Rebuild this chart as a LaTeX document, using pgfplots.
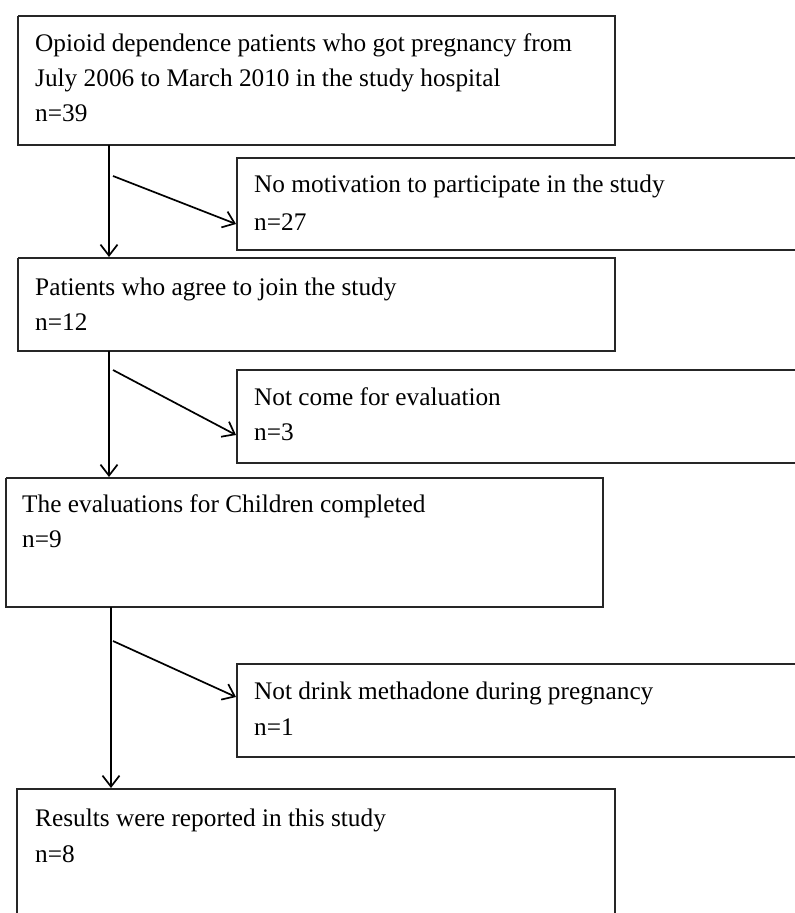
\documentclass[border=0pt]{standalone}
\usepackage{fontspec}
\setmainfont{Liberation Serif}
\usepackage{pgfplots}
\pgfplotsset{compat=1.18}
\usetikzlibrary{arrows.meta}
\begin{document}
\begin{tikzpicture}[
  ln/.style={black!85, line width=1.7bp, mark=none},
  ar/.style={black, line width=1.7bp, mark=none, -{Straight Barb[length=11bp,width=17bp,line width=1.7bp]}},
]
\begin{axis}[
  scale only axis, width=795bp, height=913bp,
  xmin=0, xmax=795, ymin=0, ymax=913, y dir=reverse,
  hide axis, clip=true,
]
% invisible corners
\addplot[draw=none, mark=none] coordinates {(0,0) (795,913)};
% main boxes
\addplot[ln] coordinates {(18,16) (615,16) (615,145) (18,145) (18,16)};
\addplot[ln] coordinates {(18,258) (615,258) (615,351) (18,351) (18,258)};
\addplot[ln] coordinates {(6,478) (603,478) (603,607) (6,607) (6,478)};
\addplot[ln] coordinates {(17,930) (17,789) (615,789) (615,930)};
% side boxes
\addplot[ln] coordinates {(800,158) (237,158) (237,250) (800,250)};
\addplot[ln] coordinates {(800,370) (237,370) (237,463) (800,463)};
\addplot[ln] coordinates {(800,664) (237,664) (237,757) (800,757)};
% vertical arrows
\addplot[ar] coordinates {(109,145) (109,257)};
\addplot[ar] coordinates {(109,351) (109,477)};
\addplot[ar] coordinates {(111,607) (111,788)};
% diagonal arrows
\addplot[ar] coordinates {(113,176) (236,224)};
\addplot[ar] coordinates {(113,370) (236,435)};
\addplot[ar] coordinates {(113,641) (236,697)};
% texts
\begin{scope}[every node/.style={anchor=base west, inner sep=0pt, font=\fontsize{25.4}{35}\selectfont}]
\node at (axis cs:35,52) {Opioid dependence patients who got pregnancy from};
\node at (axis cs:35,87) {July 2006 to March 2010 in the study hospital};
\node at (axis cs:35,122) {n=39};
\node at (axis cs:254,193) {No motivation to participate in the study};
\node at (axis cs:254,230) {n=27};
\node at (axis cs:35,295) {Patients who agree to join the study};
\node at (axis cs:35,330) {n=12};
\node at (axis cs:254,405) {Not come for evaluation};
\node at (axis cs:254,440) {n=3};
\node at (axis cs:22,512) {The evaluations for Children completed};
\node at (axis cs:22,547) {n=9};
\node at (axis cs:254,699) {Not drink methadone during pregnancy};
\node at (axis cs:254,735) {n=1};
\node at (axis cs:35,826) {Results were reported in this study};
\node at (axis cs:35,862) {n=8};
\end{scope}
\end{axis}
\end{tikzpicture}
\end{document}
